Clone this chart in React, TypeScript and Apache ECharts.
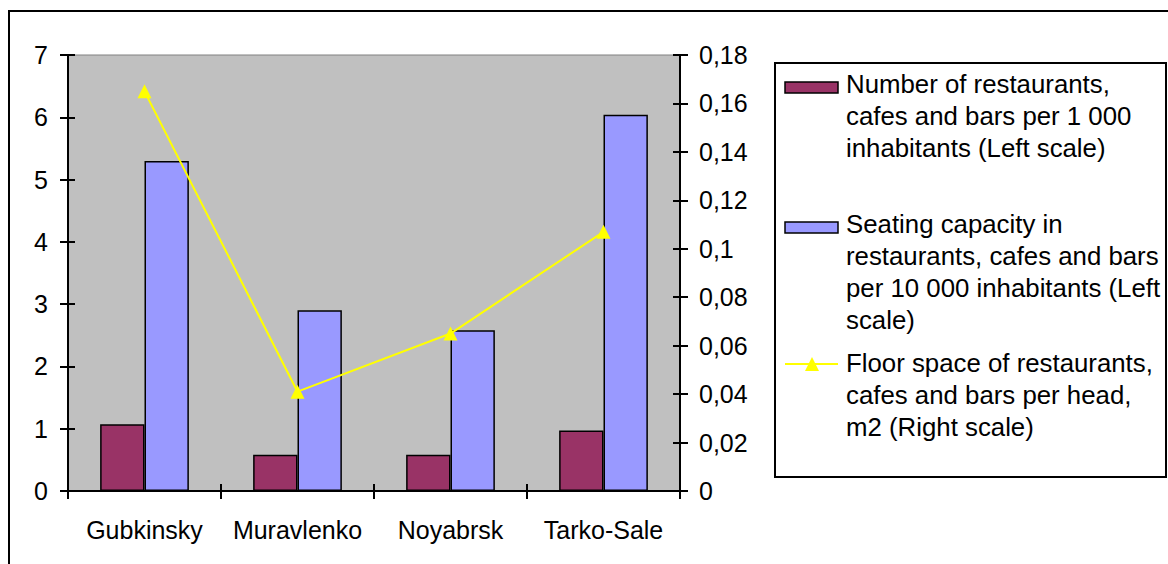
import React, { useEffect, useRef } from "react";
import * as echarts from "echarts";

const categories = ["Gubkinsky", "Muravlenko", "Noyabrsk", "Tarko-Sale"];
const restaurantsPer1000 = [1.07, 0.58, 0.58, 0.97];
const seatsPer10000 = [5.3, 2.9, 2.58, 6.04];
const floorSpacePerHead = [0.165, 0.041, 0.065, 0.107];

const leftMin = 0;
const leftMax = 7;
const leftStep = 1;
const rightMin = 0;
const rightMax = 0.18;
const rightStep = 0.02;

const legend1 = ["Number of restaurants,", "cafes and bars per 1 000", "inhabitants (Left scale)"];
const legend2 = ["Seating capacity in", "restaurants, cafes and bars", "per 10 000 inhabitants (Left", "scale)"];
const legend3 = ["Floor space of restaurants,", "cafes and bars per head,", "m2 (Right scale)"];

const FONT = "Liberation Sans, Arial, sans-serif";
const MAROON = "#993366";
const BLUE = "#9999FF";
const YELLOW = "#FFFF00";

export default function App() {
  const ref = useRef<HTMLDivElement>(null);
  useEffect(() => {
    if (!ref.current) return;
    const chart = echarts.init(ref.current, undefined, { renderer: "svg" });
    const axisLabelStyle = { color: "#000", fontFamily: FONT, fontSize: 25 };
    const fmtRight = (v: number) => String(+v.toFixed(2)).replace(".", ",");
    const legendText = (lines: string[], y: number) => ({
      type: "text",
      x: 846,
      y,
      z: 10,
      style: {
        text: lines.join("\n"),
        fill: "#000",
        font: `25.8px ${FONT}`,
        lineHeight: 31.7,
        verticalAlign: "top",
        align: "left",
      },
    });
    chart.setOption({
      animation: false,
      backgroundColor: "#fff",
      grid: {
        left: 68,
        right: 1168 - 680,
        top: 55,
        bottom: 564 - 491,
        show: true,
        backgroundColor: "#C0C0C0",
        borderColor: "#808080",
        borderWidth: 1,
      },
      xAxis: [
        {
          type: "category",
          data: categories,
          position: "bottom",
          axisLine: { lineStyle: { color: "#000", width: 2 } },
          axisTick: { show: true, length: 8, lineStyle: { color: "#000", width: 2 } },
          axisLabel: { ...axisLabelStyle, margin: 26, interval: 0 },
          splitLine: { show: false },
        },
        {
          type: "category",
          data: categories,
          position: "bottom",
          axisLine: { show: false },
          axisTick: { show: true, inside: true, length: 7, lineStyle: { color: "#000", width: 2 } },
          axisLabel: { show: false },
          splitLine: { show: false },
        },
      ],
      yAxis: [
        {
          type: "value",
          position: "left",
          min: leftMin,
          max: leftMax,
          interval: leftStep,
          axisLine: { show: true, lineStyle: { color: "#000", width: 2 } },
          axisTick: { show: true, length: 8, lineStyle: { color: "#000", width: 2 } },
          axisLabel: { ...axisLabelStyle, margin: 20 },
          splitLine: { show: false },
        },
        {
          type: "value",
          position: "right",
          min: rightMin,
          max: rightMax,
          interval: rightStep,
          axisLine: { show: true, lineStyle: { color: "#000", width: 2 } },
          axisTick: { show: true, length: 8, lineStyle: { color: "#000", width: 2 } },
          axisLabel: { ...axisLabelStyle, margin: 19, formatter: fmtRight },
          splitLine: { show: false },
        },
        {
          type: "value",
          position: "left",
          min: leftMin,
          max: leftMax,
          interval: leftStep,
          axisLine: { show: false },
          axisTick: { show: true, inside: true, length: 7, lineStyle: { color: "#000", width: 2 } },
          axisLabel: { show: false },
          splitLine: { show: false },
        },
        {
          type: "value",
          position: "right",
          min: rightMin,
          max: rightMax,
          interval: rightStep,
          axisLine: { show: false },
          axisTick: { show: true, inside: true, length: 7, lineStyle: { color: "#000", width: 2 } },
          axisLabel: { show: false },
          splitLine: { show: false },
        },
      ],
      series: [
        {
          name: legend1.join(" "),
          type: "bar",
          data: restaurantsPer1000,
          xAxisIndex: 0,
          yAxisIndex: 0,
          barGap: "0%",
          barCategoryGap: "42%",
          itemStyle: { color: MAROON, borderColor: "#000", borderWidth: 1.5 },
        },
        {
          name: legend2.join(" "),
          type: "bar",
          data: seatsPer10000,
          xAxisIndex: 0,
          yAxisIndex: 0,
          barGap: "0%",
          barCategoryGap: "42%",
          itemStyle: { color: BLUE, borderColor: "#000", borderWidth: 1.5 },
        },
        {
          name: legend3.join(" "),
          type: "line",
          data: floorSpacePerHead,
          xAxisIndex: 0,
          yAxisIndex: 1,
          symbol: "triangle",
          symbolSize: 14,
          lineStyle: { color: YELLOW, width: 2 },
          itemStyle: { color: YELLOW },
          z: 5,
        },
      ],
      graphic: [
        {
          type: "rect",
          z: -10,
          silent: true,
          shape: { x: 9, y: 11, width: 1170, height: 570 },
          style: { fill: "none", stroke: "#000", lineWidth: 2 },
        },
        {
          type: "rect",
          z: 5,
          shape: { x: 775, y: 63, width: 391, height: 414 },
          style: { fill: "#fff", stroke: "#000", lineWidth: 2 },
        },
        {
          type: "rect",
          z: 10,
          shape: { x: 785, y: 82, width: 53, height: 11 },
          style: { fill: MAROON, stroke: "#000", lineWidth: 1.5 },
        },
        legendText(legend1, 68.6),
        {
          type: "rect",
          z: 10,
          shape: { x: 785, y: 222, width: 53, height: 11 },
          style: { fill: BLUE, stroke: "#000", lineWidth: 1.5 },
        },
        legendText(legend2, 208.6),
        {
          type: "line",
          z: 10,
          shape: { x1: 785, y1: 364, x2: 838, y2: 364 },
          style: { stroke: YELLOW, lineWidth: 2 },
        },
        {
          type: "polygon",
          z: 10,
          shape: { points: [[812, 357], [805, 371], [819, 371]] },
          style: { fill: YELLOW },
        },
        legendText(legend3, 347.6),
      ],
    });
    return () => chart.dispose();
  }, []);
  return (
    <div
      ref={ref}
      style={{ position: "fixed", left: 0, top: 0, width: 1168, height: 564, background: "#fff" }}
    />
  );
}
